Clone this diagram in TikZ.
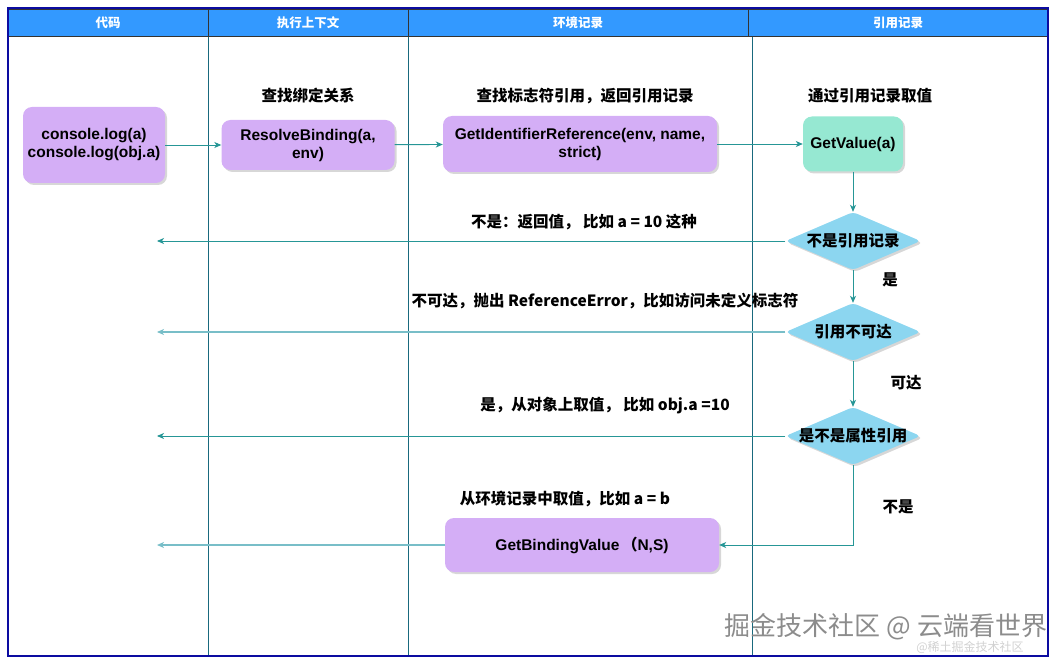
\documentclass[tikz,border=0pt]{standalone}
\usepackage{fontspec}
\setmainfont{Liberation Sans}
\newfontfamily\cjk{Noto Sans CJK SC}
\usetikzlibrary{shapes.geometric,arrows.meta,shadows}
\definecolor{hdrblue}{RGB}{51,153,255}
\definecolor{framenavy}{RGB}{12,12,160}
\definecolor{laneteal}{RGB}{25,105,125}
\definecolor{flowteal}{RGB}{38,150,150}
\definecolor{flowpale}{RGB}{120,190,200}
\definecolor{procpurple}{RGB}{212,174,246}
\definecolor{valgreen}{RGB}{150,232,210}
\definecolor{condblue}{RGB}{140,214,240}
\tikzset{
  shade/.style={drop shadow={shadow xshift=2pt, shadow yshift=-2pt, fill=black!35, opacity=.45}},
  proc/.style={rectangle, rounded corners=9pt, fill=procpurple, align=center, inner sep=2pt,
    font=\fontsize{15.5}{18}\selectfont\bfseries, shade},
  val/.style={proc, fill=valgreen},
  cond/.style={diamond, rounded corners=4pt, fill=condblue, inner sep=0pt,
    minimum width=135pt, minimum height=58pt, font=\cjk\bfseries\fontsize{15.5}{18}\selectfont, shade},
  hdr/.style={rectangle, draw=black!80, fill=hdrblue, text=white, minimum height=27pt,
    font=\cjk\bfseries\fontsize{12.5}{14}\selectfont},
  lbl/.style={font=\cjk\bfseries\fontsize{15.5}{18}\selectfont, inner sep=0pt},
  flow/.style={draw=flowteal, line width=.9pt, -{Stealth[length=7pt,width=6pt,inset=2pt]}},
  flowlight/.style={flow, draw=flowpale, line width=1.4pt},
  lane/.style={draw=laneteal, line width=.8pt}
}
\begin{document}
\begin{tikzpicture}[x=1pt, y=-1pt]
\useasboundingbox (0,0) rectangle (1060,660);
% lanes
\draw[lane] (208,36) -- (208,656);
\draw[lane] (408,36) -- (408,656);
\draw[lane] (752,36) -- (752,656);
\node (hcode) [hdr, minimum width=200pt] at (108,22.5) {代码};
\node (hctx) [hdr, minimum width=200pt] at (308,22.5) {执行上下文};
\node (henv) [hdr, minimum width=340pt] at (578,22.5) {环境记录};
\node (href) [hdr, minimum width=300pt] at (898,22.5) {引用记录};
\draw[framenavy, line width=1.5pt] (8,8) rectangle (1048,656);

% boxes
\node (code) [proc, minimum width=142pt, minimum height=76pt] at (94,145) {console.log(a)\\console.log(obj.a)};
\node (resolve) [proc, minimum width=173pt, minimum height=50pt] at (308,145) {ResolveBinding(a,\\env)};
\node (getref) [proc, minimum width=274pt, minimum height=56pt] at (580,144) {GetIdentifierReference(env, name,\\strict)};
\node (getval) [val, minimum width=100pt, minimum height=55pt] at (853,144) {GetValue(a)};
\node (isref) [cond] at (853,241) {\makebox[0pt]{不是引用记录}};
\node (unreach) [cond] at (853,332) {\makebox[0pt]{引用不可达}};
\node (isprop) [cond] at (853,436) {\makebox[0pt]{是不是属性引用}};
\node (getbind) [proc, minimum width=274pt, minimum height=54pt, font=\fontsize{15.5}{18}\selectfont\bfseries] at (582,545) {GetBindingValue\,{\cjk （}N,S)};

% labels
\node (lresolve) [lbl] at (308,96) {查找绑定关系};
\node (lgetref) [lbl] at (585,96) {查找标志符引用，返回引用记录};
\node (lgetval) [lbl] at (870,96) {通过引用记录取值};
\node (lnotref) [lbl] at (584,222) {不是：返回值，\ 比如 a = 10 这种};
\node (lyes) [lbl] at (890,280) {是};
\node (lerr) [lbl] at (605,301) {不可达，抛出 ReferenceError，比如访问未定义标志符};
\node (lreach) [lbl] at (906,383) {可达};
\node (lprop) [lbl] at (605,406) {是，从对象上取值，\ 比如 obj.a =10};
\node (lno) [lbl] at (898,507) {不是};
\node (lbind) [lbl] at (565,499) {从环境记录中取值，比如 a = b};

% free ends
\coordinate (out1) at (157,241);
\coordinate (out2) at (157,332);
\coordinate (out3) at (157,436);
\coordinate (out4) at (157,545);

\draw[flow] (code) -- (resolve);
\draw[flow] (resolve) -- (getref);
\draw[flow] (getref) -- (getval);
\draw[flow] (getval) -- (isref);
\draw[flow] (isref) -- (unreach);
\draw[flow] (unreach) -- (isprop);
\draw[flow] (isprop.south) |- (getbind.east);
\draw[flow] (isref) -- (out1);
\draw[flowlight] (unreach) -- (out2);
\draw[flow] (isprop) -- (out3);
\draw[flowlight] (getbind) -- (out4);

% watermark
\node (wm) [text=black!45, font=\cjk\fontsize{26}{28}\selectfont] at (886,627) {掘金技术社区 @ 云端看世界};
\node (wmsmall) [text=black!18, font=\cjk\fontsize{12}{14}\selectfont] at (970,647) {@稀土掘金技术社区};
\end{tikzpicture}
\end{document}
